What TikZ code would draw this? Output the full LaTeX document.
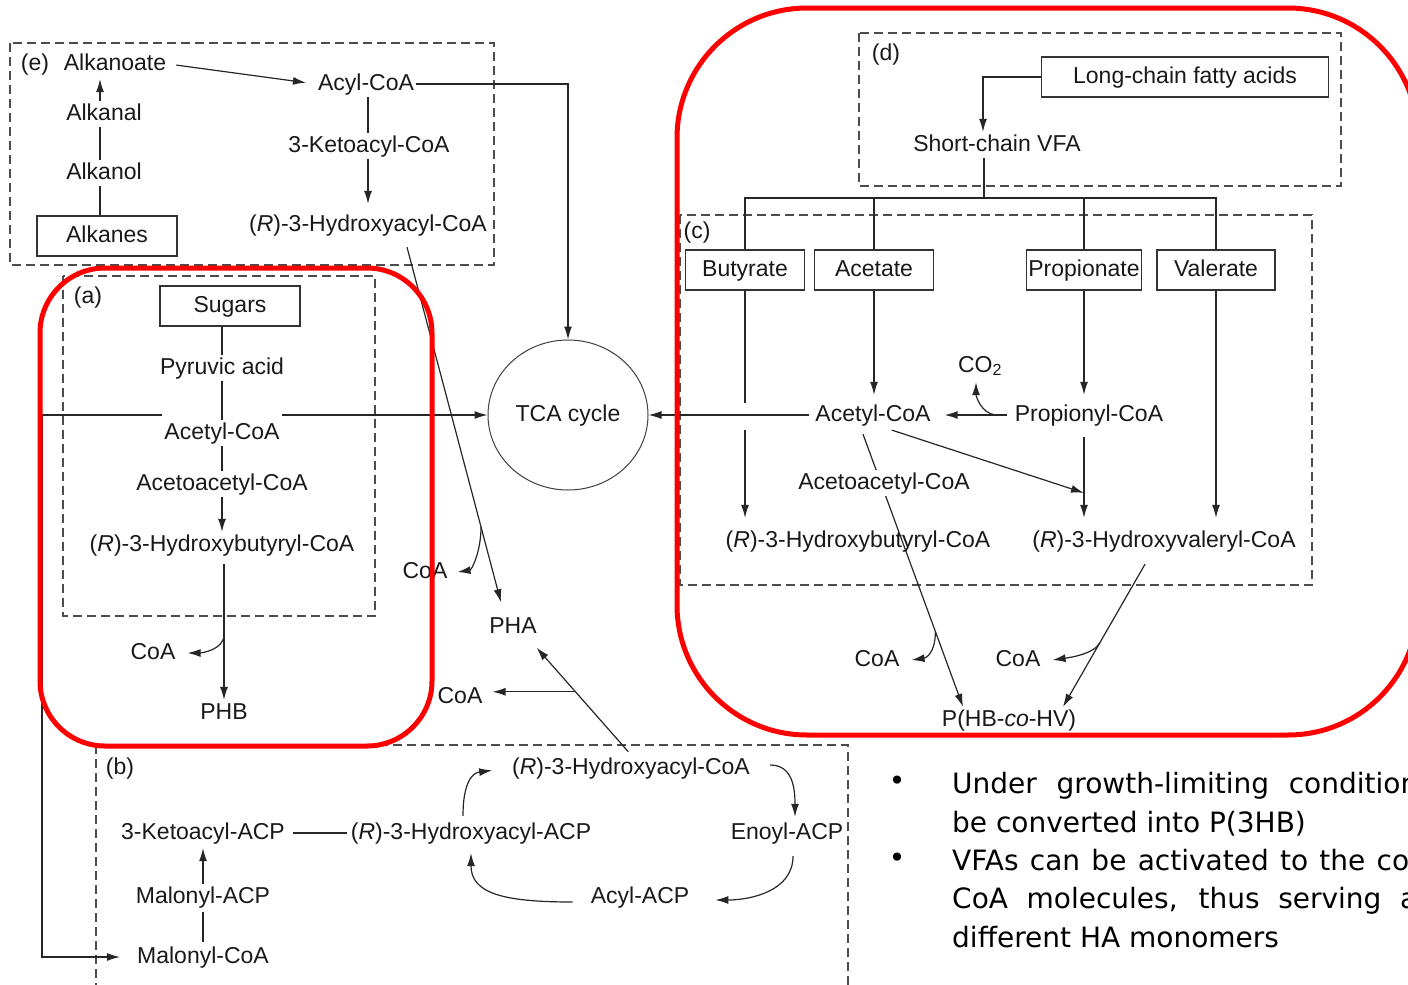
\documentclass[tikz,border=0pt]{standalone}
\usepackage{fontspec}
\setmainfont{Liberation Sans}
\newfontfamily\notefont{DejaVu Sans}
\usetikzlibrary{arrows.meta,shapes.geometric}

\begin{document}
\begin{tikzpicture}[x=1pt, y=-1pt,
  pwnode/.style={font=\fontsize{23}{26}\selectfont, text=black!90, inner sep=2pt,
                 text height=17pt, text depth=5pt},
  pwbox/.style={pwnode, draw=black!80, line width=1.1pt, minimum height=40pt},
  pwregion/.style={draw=black!70, line width=1.1pt, dash pattern=on 9pt off 5pt},
  pwedge/.style={draw=black!85, line width=1.2pt, -{Latex[length=13pt,width=8pt]}},
  pwline/.style={draw=black!85, line width=1.2pt},
  pwred/.style={draw=red, line width=5pt},
  pwnote/.style={font=\notefont\fontsize{28}{34}\selectfont, anchor=base west, inner sep=0pt},
]
  \useasboundingbox (0,0) rectangle (1408,985);
  \clip (0,0) rectangle (1408,985);

  \draw[pwregion] (10,43) rectangle (494,265);
  \draw[pwregion] (63,276) rectangle (375,616);
  \draw[pwregion] (859,33) rectangle (1341,186);
  \draw[pwregion] (680,215) rectangle (1312,585);
  \draw[pwregion] (96,745) rectangle (848,1000);

  % (e) alkanes
  \node[pwnode] (labe) at (35,64) {(e)};
  \node[pwnode] (alkanoate) at (115,64) {Alkanoate};
  \node[pwnode] (alkanal) at (104,114) {Alkanal};
  \node[pwnode] (alkanol) at (104,173) {Alkanol};
  \node[pwbox, minimum width=140pt] (alkanes) at (107,236) {Alkanes};
  \node[pwnode] (acylcoa) at (366,84) {Acyl-CoA};
  \node[pwnode] (ketoacylcoa) at (369,146) {3-Ketoacyl-CoA};
  \node[pwnode] (hacylcoa) at (368,225) {(\textit{R})-3-Hydroxyacyl-CoA};

  % (a) sugars
  \node[pwnode] (laba) at (88,297) {(a)};
  \node[pwbox, minimum width=140pt] (sugars) at (230,306) {Sugars};
  \node[pwnode] (pyruvic) at (222,368) {Pyruvic acid};
  \node[pwnode] (acetylA) at (222,433) {Acetyl-CoA};
  \node[pwnode] (acetoacA) at (222,484) {Acetoacetyl-CoA};
  \node[pwnode] (hbutA) at (222,545) {(\textit{R})-3-Hydroxybutyryl-CoA};
  \node[pwnode] (coaA) at (153,653) {CoA};
  \node[pwnode] (phb) at (224,713) {PHB};

  \node[pwnode, draw=black!75, line width=1pt, ellipse, minimum width=160pt,
        minimum height=150pt] (tca) at (568,415) {TCA cycle};
  \node[pwnode] (coaE) at (425,572) {CoA};
  \node[pwnode] (pha) at (513,627) {PHA};
  \node[pwnode] (coaB) at (460,697) {CoA};

  % (d) and (c) fatty acids
  \node[pwnode] (labd) at (886,54) {(d)};
  \node[pwbox, minimum width=287pt] (longchain) at (1185,77) {Long-chain fatty acids};
  \node[pwnode] (scvfa) at (997,145) {Short-chain VFA};
  \node[pwnode] (labc) at (697,232) {(c)};
  \node[pwbox, minimum width=119pt] (butyrate) at (745,270) {Butyrate};
  \node[pwbox, minimum width=119pt] (acetate) at (874,270) {Acetate};
  \node[pwbox, minimum width=115pt] (propionate) at (1084,270) {Propionate};
  \node[pwbox, minimum width=118pt] (valerate) at (1216,270) {Valerate};
  \node[pwnode] (co2) at (980,366) {CO\textsubscript{2}};
  \node[pwnode] (acetylC) at (873,415) {Acetyl-CoA};
  \node[pwnode] (propcoa) at (1089,415) {Propionyl-CoA};
  \node[pwnode] (hbutC) at (858,541) {(\textit{R})-3-Hydroxybutyryl-CoA};
  \node[pwnode] (hvalC) at (1164,541) {(\textit{R})-3-Hydroxyvaleryl-CoA};
  \node[pwnode] (coaC1) at (877,660) {CoA};
  \node[pwnode] (coaC2) at (1018,660) {CoA};
  \node[pwnode] (phbv) at (1009,720) {P(HB-\textit{co}-HV)};

  % (b) fatty acid synthesis
  \node[pwnode] (labb) at (120,768) {(b)};
  \node[pwnode] (hacylcoaB) at (631,768) {(\textit{R})-3-Hydroxyacyl-CoA};
  \node[pwnode] (ketoacp) at (203,833) {3-Ketoacyl-ACP};
  \node[pwnode] (hacylacp) at (471,833) {(\textit{R})-3-Hydroxyacyl-ACP};
  \node[pwnode] (enoyl) at (787,833) {Enoyl-ACP};
  \node[pwnode] (malacp) at (203,897) {Malonyl-ACP};
  \node[pwnode] (acylacp) at (640,897) {Acyl-ACP};
  \node[pwnode] (malcoa) at (203,957) {Malonyl-CoA};

  \coordinate (lft) at (42,415);
  \coordinate (vfasplit) at (984,198);

  \draw[pwedge, shorten <=8pt, shorten >=10pt] (alkanoate.east) -- (acylcoa.west);
  \draw[pwedge, shorten >=2pt] ([xshift=-4pt]alkanal.north) -- ([xshift=-4pt]alkanal.north |- alkanoate.south);
  \draw[pwline] ([xshift=-4pt]alkanol.north) -- ([xshift=-4pt]alkanal.south);
  \draw[pwline] ([xshift=-4pt]alkanes.north -| alkanol.south) -- ([xshift=-4pt]alkanol.south);
  \draw[pwedge] (acylcoa.east) -| (tca.north);
  \draw[pwline] (acylcoa.south -| hacylcoa.north) -- (ketoacylcoa.north -| hacylcoa.north);
  \draw[pwedge, shorten >=8pt] (ketoacylcoa.south -| hacylcoa.north) -- (hacylcoa.north);
  \draw[pwedge, shorten >=12pt] ([xshift=39pt,yshift=-9pt]hacylcoa.south) -- coordinate[pos=0.763] (brE) ([xshift=-9pt]pha.north);
  \draw[pwedge] (brE) .. controls +(0,25) and +(14,-2) .. ([xshift=8pt]coaE.east);

  \draw[pwline] (sugars.south -| pyruvic.north) -- (pyruvic.north);
  \draw[pwline] (pyruvic.south) -- (pyruvic.south |- acetylA.north);
  \draw[pwedge] (acetylA.north east |- tca.west) -- (tca.west);
  \draw[pwedge, shorten >=15pt] (acetylA.north west |- tca.west) -- (lft) |- (malcoa.west);
  \draw[pwline] (acetylA.south) -- (acetoacA.north);
  \draw[pwedge] (acetoacA.south) -- (hbutA.north);
  \draw[pwedge, shorten <=6pt] (phb.north |- hbutA.south) -- coordinate[pos=0.54] (brA) (phb.north);
  \draw[pwedge] (brA) .. controls +(0,15) and +(14,0) .. ([xshift=10pt]coaA.east);

  \draw[pwedge] (longchain.west) -| ([xshift=-14pt]scvfa.north);
  \draw[pwline] ([xshift=-13pt]scvfa.south) -- (vfasplit);
  \draw[pwline] (butyrate.north) |- (vfasplit) -| (valerate.north);
  \draw[pwline] (acetate.north) -- (acetate.north |- vfasplit);
  \draw[pwline] (propionate.north) -- (propionate.north |- vfasplit);
  \draw[pwline] (butyrate.south) -- (butyrate.south |- 0,403);
  \draw[pwedge, shorten >=10pt] (butyrate.south |- 0,430) -- (butyrate.south |- hbutC.north);
  \draw[pwedge, shorten >=7pt] (acetate.south) -- (acetate.south |- acetylC.north);
  \draw[pwedge, shorten >=7pt] (propionate.south) -- (propionate.south |- propcoa.north);
  \draw[pwedge, shorten <=9pt, shorten >=10pt] (propionate.south |- propcoa.south) -- coordinate[pos=0.65] (brP) (propionate.south |- hvalC.north);
  \draw[pwedge, shorten >=10pt] (valerate.south) -- (valerate.south |- hvalC.north);
  \draw[pwedge, shorten <=6pt, shorten >=12pt] (propcoa.west) -- coordinate[pos=0.22] (brco) (acetylC.east);
  \draw[pwedge] (brco) .. controls +(-14,-2) and +(0,14) .. ([xshift=-4pt,yshift=-3pt]co2.south);
  \draw[pwedge, shorten <=4pt] (acetylC.west) -- (tca.east);
  \draw[pwedge, shorten <=6pt] ([xshift=13pt]acetylC.south) -- (brP);
  \draw[pwedge] ([xshift=-10pt,yshift=-6pt]acetylC.south) -- coordinate[pos=0.724] (brC1) ([xshift=-46pt]phbv.north);
  \draw[pwedge] (brC1) .. controls +(0,22) and +(14,-2) .. ([xshift=10pt]coaC1.east);
  \draw[pwedge] ([xshift=-19pt,yshift=-10pt]hvalC.south) -- coordinate[pos=0.55] (brC2) ([xshift=54pt]phbv.north);
  \draw[pwedge] (brC2) .. controls +(-6,12) and +(14,-2) .. ([xshift=10pt]coaC2.east);
  \node[pwnode, fill=white] (acetoacC) at (884,483) {Acetoacetyl-CoA};

  \draw[pwedge, shorten <=4pt, shorten >=10pt] (hacylcoaB.north) -- coordinate[pos=0.55] (brB) ([xshift=17pt]pha.south);
  \draw[pwedge] (brB) -- ([xshift=8pt]coaB.east |- brB);
  \draw[pwline, shorten <=6pt, shorten >=2pt] (ketoacp.east) -- (hacylacp.west);
  \draw[pwline, shorten <=2pt, shorten >=2pt] (malcoa.north) -- (malacp.south);
  \draw[pwedge, shorten >=2pt] (malacp.north) -- (ketoacp.south);
  \draw[pwedge, shorten >=18pt] ([xshift=-8pt,yshift=4pt]hacylacp.north) .. controls +(0,-45) and +(-30,4) .. (hacylcoaB.west);
  \draw[pwedge] ([xshift=18pt,yshift=3pt]hacylcoaB.east) .. controls +(22,0) and +(0,-30) .. ([xshift=8pt,yshift=3pt]enoyl.north);
  \draw[pwedge] ([xshift=6pt,yshift=-10pt]enoyl.south) .. controls +(0,35) and +(35,0) .. ([xshift=24pt,yshift=-3pt]acylacp.east);
  \draw[pwedge] ([xshift=-16pt,yshift=-5pt]acylacp.west) .. controls +(-70,0) and +(0,40) .. ([yshift=-7pt]hacylacp.south);

  \draw[pwred, rounded corners=65pt] (40,268) rectangle (432,746);
  \draw[pwred, rounded corners=130pt] (677,8) rectangle (1418,735);

  \node[pwnote, anchor=center] (bul1) at (897,783) {\textbullet};
  \node[pwnote, anchor=center] (bul2) at (897,860) {\textbullet};
  \node[pwnote] (note1a) at (952,793) {\makebox[466pt][s]{Under growth-limiting condition}};
  \node[pwnote] (note1b) at (952,832) {be converted into P(3HB)};
  \node[pwnote] (note2a) at (952,870) {\makebox[457pt][s]{VFAs can be activated to the co}};
  \node[pwnote] (note2b) at (952,908) {\makebox[465pt][s]{CoA molecules, thus serving a}};
  \node[pwnote] (note2c) at (952,947) {different HA monomers};
\end{tikzpicture}
\end{document}
